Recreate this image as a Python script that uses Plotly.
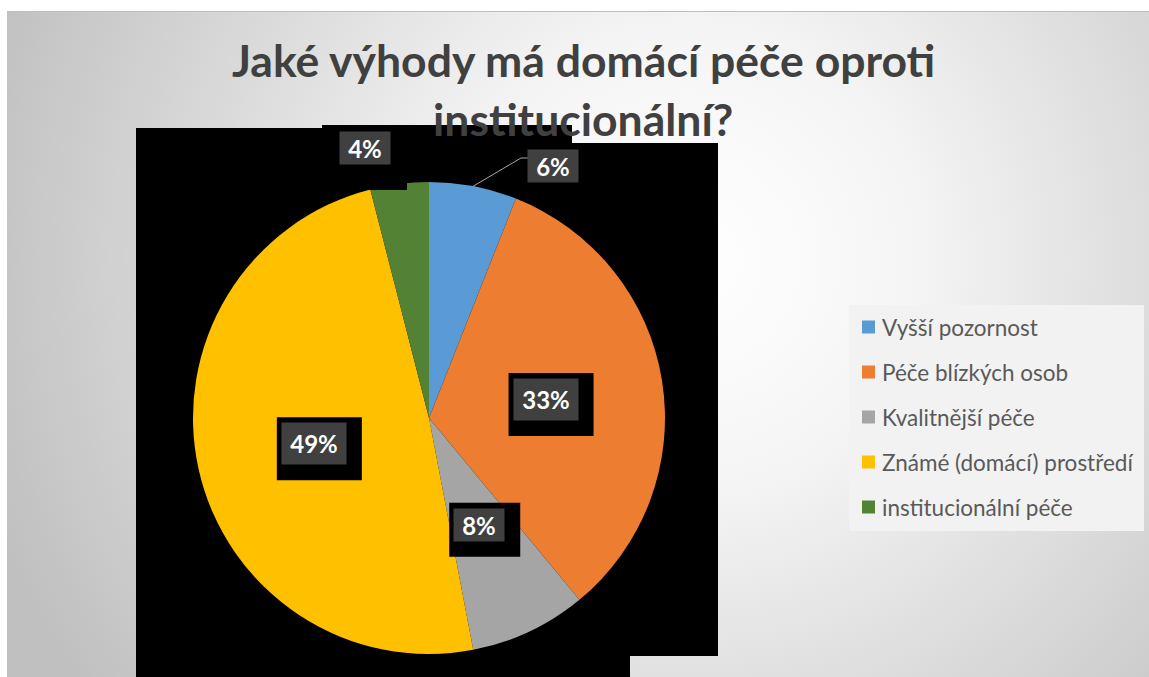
import base64
import math

import plotly.graph_objects as go

# --- data -------------------------------------------------------------------
categories = [
    "Vyšší pozornost",
    "Péče blízkých osob",
    "Kvalitnější péče",
    "Známé (domácí) prostředí",
    "institucionální péče",
]
shares = [6, 33, 8, 49, 4]
colors = ["#5B9BD5", "#ED7D31", "#A5A5A5", "#FFC000", "#548235"]
title_lines = ["Jaké výhody má domácí péče oproti", "institucionální?"]

# --- canvas geometry (pixels) -------------------------------------------------
W, H = 1149, 677
CX, CY, R = 429, 418, 236          # pie centre and radius


def px(x):
    return x / W


def py(y):
    return 1 - y / H


# --- radial-gradient backdrop as an inline SVG image ---------------------------
svg = f"""<svg xmlns='http://www.w3.org/2000/svg' width='{W}' height='{H}'>
<defs><radialGradient id='g' gradientUnits='userSpaceOnUse' cx='690' cy='260' r='740'>
<stop offset='0' stop-color='#ffffff'/><stop offset='0.3' stop-color='#f5f5f5'/>
<stop offset='1' stop-color='#c0c0c0'/></radialGradient></defs>
<rect width='{W}' height='{H}' fill='#ffffff'/>
<rect x='7' y='11' width='{W - 7}' height='{H - 11}' fill='url(#g)'/>
<line x1='7' y1='11.5' x2='{W}' y2='11.5' stroke='#bdbdbd' stroke-width='1'/>
</svg>"""
bg_uri = "data:image/svg+xml;base64," + base64.b64encode(svg.encode()).decode()

fig = go.Figure()

fig.add_trace(go.Pie(
    labels=categories,
    values=shares,
    marker=dict(colors=colors, line=dict(width=0)),
    sort=False,
    direction="clockwise",
    rotation=0,
    textinfo="none",
    hoverinfo="label+percent",
    showlegend=False,
    domain=dict(x=[px(CX - R), px(CX + R)], y=[py(CY + R), py(CY - R)]),
))

shapes = []


def rect(x0, y0, x1, y1, color, layer="below"):
    shapes.append(dict(type="rect", xref="paper", yref="paper",
                       x0=px(x0), x1=px(x1), y0=py(y1), y1=py(y0),
                       line=dict(width=0), fillcolor=color, layer=layer))


# black panel behind the pie
rect(136, 143, 718, 656, "#000000")
rect(136, 656, 630, 677, "#000000")
rect(136, 128, 322, 143, "#000000")
rect(322, 125, 572, 143, "#000000")

# slice mid-angles (degrees clockwise from 12 o'clock)
total = sum(shares)
mid_angles = []
acc = 0
for v in shares:
    mid_angles.append((acc + v / 2) / total * 360)
    acc += v

# label centres: inside labels sit half-way out along the slice bisector,
# the two thin slices get their labels outside the pie
outside_pos = {0: (553, 166), 4: (365, 148)}
annotations = []
for i, v in enumerate(shares):
    a = math.radians(mid_angles[i])
    if i in outside_pos:
        lx, ly = outside_pos[i]
    else:
        lx = CX + 0.5 * R * math.sin(a)
        ly = CY - 0.5 * R * math.cos(a)
    txt = f"{v}%"
    bw = 64 if len(txt) > 2 else 50
    bh = 41 if len(txt) > 2 else 32
    if i not in outside_pos:
        rect(lx - bw / 2 - 5, ly - bh / 2 - 6, lx + bw / 2 + 16, ly + bh / 2 + 16,
             "#000000", layer="above")
    annotations.append(dict(
        x=px(lx), y=py(ly), xref="paper", yref="paper",
        text=f"<b>{txt}</b>", showarrow=False,
        xanchor="center", yanchor="middle",
        width=bw, height=bh, borderpad=0,
        bgcolor="#404040",
        font=dict(family="Lato", size=24, color="#ffffff"),
    ))
    if i == 0:
        # leader line from the slice rim to the outside label
        ex = CX + R * math.sin(a)
        ey = CY - R * math.cos(a)
        kx = lx - bw / 2 - 7
        shapes.append(dict(type="path", xref="paper", yref="paper",
                           path=f"M{px(ex)},{py(ey)} L{px(kx)},{py(ly - 8)} "
                                f"L{px(lx - bw / 2)},{py(ly - 8)}",
                           line=dict(color="#a6a6a6", width=1), layer="above"))

# black backing of the small outside label over the pie rim
rect(322, 125, 407, 190, "#000000", layer="above")

# title, one annotation per line
for line, yc in zip(title_lines, (60, 119)):
    annotations.append(dict(
        x=px(583), y=py(yc), xref="paper", yref="paper",
        text=f"<b>{line}</b>", showarrow=False,
        xanchor="center", yanchor="middle", align="center",
        font=dict(family="Lato", size=44.5, color="#404040"),
    ))

# legend panel
rect(849, 305, 1144, 531, "#f2f2f2")
for i, (name, col) in enumerate(zip(categories, colors)):
    yc = 327 + 45 * i
    rect(862, yc - 6.5, 875, yc + 6.5, col)
    annotations.append(dict(
        x=px(880), y=py(yc), xref="paper", yref="paper",
        text=name, showarrow=False, xanchor="left", yanchor="middle",
        font=dict(family="Lato", size=22.5, color="#595959"),
    ))

fig.update_layout(
    width=W, height=H,
    margin=dict(l=0, r=0, t=0, b=0),
    paper_bgcolor="#ffffff",
    plot_bgcolor="rgba(0,0,0,0)",
    shapes=shapes,
    annotations=annotations,
    images=[dict(source=bg_uri, xref="paper", yref="paper", x=0, y=1,
                 sizex=1, sizey=1, xanchor="left", yanchor="top",
                 sizing="stretch", layer="below")],
)

fig.write_html("out.html")
